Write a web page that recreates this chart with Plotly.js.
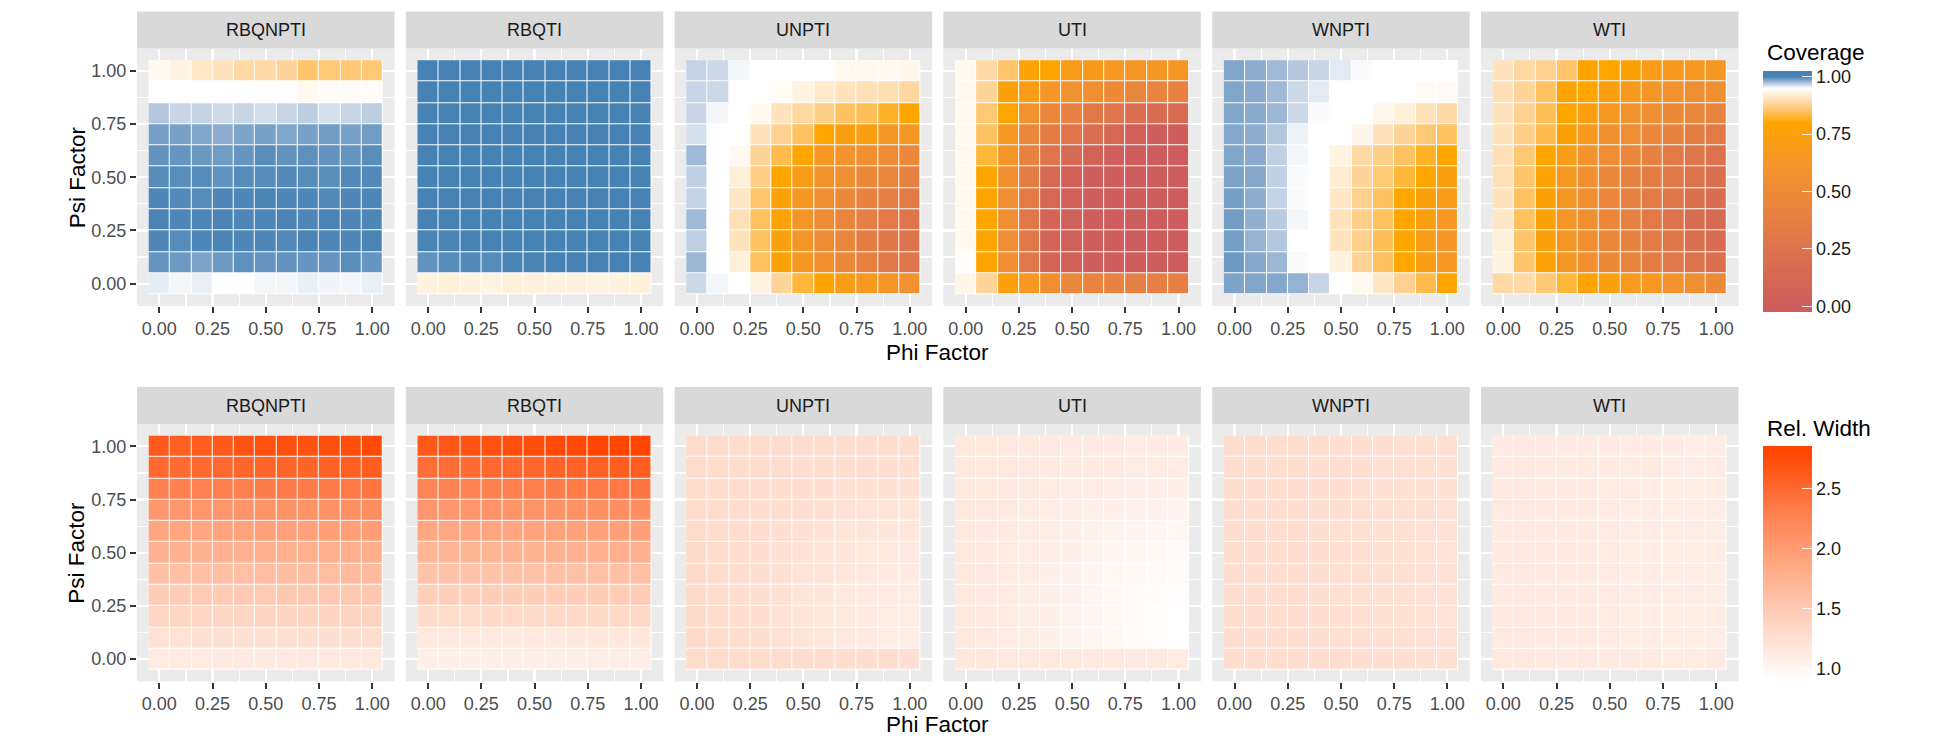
<!DOCTYPE html>
<html>
<head>
<meta charset="utf-8">
<script src="https://cdn.plot.ly/plotly-3.0.1.min.js"></script>
<style>html,body{margin:0;padding:0;background:#fff;}#chart{width:1950px;height:750px;}</style>
</head>
<body>
<div id="chart"></div>
<script>
// ---------------- DATA ----------------
const methods = ['RBQNPTI', 'RBQTI', 'UNPTI', 'UTI', 'WNPTI', 'WTI'];
const phi = [0.0, 0.1, 0.2, 0.3, 0.4, 0.5, 0.6, 0.7, 0.8, 0.9, 1.0];
// rows below are listed top-down: psi = 1.0, 0.9, ..., 0.0
const psiTopDown = [1.0, 0.9, 0.8, 0.7, 0.6, 0.5, 0.4, 0.3, 0.2, 0.1, 0.0];
const axisTicks = [0, 0.25, 0.5, 0.75, 1];
const axisTickText = ['0.00', '0.25', '0.50', '0.75', '1.00'];
const covTicks = [0, 0.25, 0.5, 0.75, 1];
const covTickText = ['0.00', '0.25', '0.50', '0.75', '1.00'];
const relTicks = [1.0, 1.5, 2.0, 2.5];
const relTickText = ['1.0', '1.5', '2.0', '2.5'];

const cov_RBQNPTI = [
  [0.94,0.93,0.91,0.905,0.89,0.89,0.88,0.855,0.86,0.86,0.86],
  [0.95,0.95,0.95,0.95,0.95,0.948,0.948,0.94,0.944,0.944,0.945],
  [0.972,0.966,0.967,0.964,0.966,0.963,0.966,0.969,0.962,0.966,0.969],
  [0.988,0.987,0.985,0.982,0.986,0.987,0.985,0.987,0.989,0.987,0.989],
  [0.993,0.992,0.991,0.989,0.992,0.995,0.993,0.994,0.993,0.992,0.995],
  [0.996,0.995,0.996,0.993,0.996,0.996,0.997,0.996,0.995,0.997,0.997],
  [0.998,0.997,0.996,0.998,0.998,0.999,0.998,0.998,0.997,0.998,0.998],
  [0.999,0.998,0.998,0.999,0.998,0.998,0.999,0.998,0.999,0.998,0.998],
  [0.998,0.996,0.998,0.999,0.998,0.998,0.997,0.999,0.998,0.998,0.999],
  [0.992,0.99,0.986,0.99,0.994,0.992,0.993,0.992,0.992,0.995,0.992],
  [0.957,0.953,0.956,0.95,0.95,0.953,0.953,0.956,0.954,0.953,0.956]
];
const cov_RBQTI = [
  [1,1,1,1,1,1,1,1,1,1,1],
  [1,1,1,1,1,1,1,1,1,1,1],
  [1,1,1,1,1,1,1,1,1,1,1],
  [1,1,1,1,1,1,1,1,1,1,1],
  [1,1,1,1,1,1,1,1,1,1,1],
  [1,1,1,1,1,1,1,1,1,1,1],
  [1,1,1,1,1,1,1,1,1,1,1],
  [1,1,1,1,1,1,1,1,1,1,1],
  [0.999,0.999,1,1,1,1,1,1,1,1,1],
  [0.993,0.996,0.997,0.996,0.999,0.999,1,1,1,1,1],
  [0.928,0.925,0.928,0.93,0.925,0.927,0.928,0.927,0.93,0.928,0.925]
];
const cov_UNPTI = [
  [0.967,0.965,0.953,0.95,0.95,0.95,0.95,0.94,0.94,0.94,0.937],
  [0.966,0.965,0.95,0.95,0.943,0.93,0.915,0.905,0.9,0.897,0.885],
  [0.966,0.953,0.95,0.94,0.905,0.885,0.87,0.85,0.845,0.82,0.80],
  [0.962,0.95,0.948,0.905,0.875,0.85,0.80,0.73,0.72,0.64,0.64],
  [0.977,0.95,0.94,0.88,0.84,0.80,0.65,0.60,0.56,0.52,0.48],
  [0.968,0.95,0.925,0.87,0.80,0.70,0.60,0.55,0.49,0.45,0.40],
  [0.967,0.95,0.91,0.855,0.76,0.64,0.55,0.48,0.42,0.37,0.33],
  [0.977,0.95,0.90,0.85,0.77,0.62,0.52,0.44,0.38,0.32,0.28],
  [0.968,0.95,0.905,0.85,0.74,0.62,0.52,0.44,0.36,0.29,0.25],
  [0.978,0.95,0.925,0.85,0.76,0.64,0.56,0.47,0.40,0.31,0.27],
  [0.965,0.953,0.95,0.93,0.88,0.83,0.79,0.70,0.66,0.62,0.58]
];
const cov_UTI = [
  [0.94,0.89,0.855,0.77,0.80,0.70,0.67,0.65,0.64,0.64,0.64],
  [0.94,0.88,0.75,0.70,0.63,0.58,0.55,0.50,0.45,0.43,0.41],
  [0.94,0.86,0.80,0.58,0.47,0.41,0.31,0.27,0.21,0.17,0.17],
  [0.94,0.85,0.65,0.47,0.36,0.27,0.20,0.12,0.06,0.02,0.02],
  [0.94,0.83,0.62,0.41,0.27,0.15,0.08,0.03,0.01,0.0,0.0],
  [0.94,0.80,0.56,0.36,0.15,0.06,0.02,0.01,0.0,0.0,0.0],
  [0.94,0.80,0.55,0.32,0.12,0.05,0.02,0.01,0.0,0.0,0.0],
  [0.94,0.80,0.54,0.30,0.10,0.04,0.02,0.01,0.0,0.0,0.0],
  [0.94,0.80,0.54,0.30,0.10,0.04,0.02,0.01,0.0,0.0,0.0],
  [0.948,0.80,0.55,0.30,0.10,0.05,0.02,0.01,0.0,0.0,0.0],
  [0.935,0.88,0.75,0.65,0.55,0.47,0.43,0.41,0.38,0.38,0.38]
];
const cov_WNPTI = [
  [0.985,0.982,0.977,0.971,0.966,0.958,0.952,0.95,0.95,0.95,0.95],
  [0.985,0.983,0.977,0.965,0.958,0.95,0.95,0.95,0.95,0.942,0.942],
  [0.985,0.983,0.978,0.965,0.952,0.95,0.95,0.937,0.925,0.905,0.89],
  [0.984,0.982,0.972,0.955,0.95,0.95,0.935,0.905,0.88,0.86,0.85],
  [0.985,0.983,0.968,0.953,0.95,0.93,0.89,0.87,0.85,0.82,0.80],
  [0.986,0.984,0.968,0.952,0.95,0.92,0.88,0.86,0.83,0.80,0.74],
  [0.988,0.982,0.967,0.952,0.95,0.91,0.875,0.85,0.80,0.75,0.70],
  [0.989,0.981,0.970,0.953,0.95,0.905,0.87,0.85,0.80,0.72,0.65],
  [0.988,0.980,0.972,0.95,0.95,0.905,0.872,0.845,0.80,0.70,0.63],
  [0.990,0.984,0.978,0.952,0.95,0.928,0.878,0.85,0.80,0.71,0.65],
  [0.986,0.985,0.984,0.980,0.966,0.95,0.94,0.91,0.875,0.84,0.80]
];
const cov_WTI = [
  [0.905,0.885,0.875,0.855,0.79,0.80,0.76,0.70,0.66,0.65,0.64],
  [0.90,0.88,0.85,0.78,0.80,0.72,0.66,0.62,0.58,0.53,0.55],
  [0.905,0.875,0.845,0.80,0.72,0.65,0.60,0.54,0.50,0.46,0.43],
  [0.905,0.87,0.84,0.76,0.66,0.57,0.53,0.47,0.42,0.36,0.33],
  [0.90,0.86,0.80,0.70,0.60,0.53,0.46,0.40,0.33,0.28,0.24],
  [0.90,0.855,0.78,0.65,0.56,0.48,0.42,0.36,0.31,0.25,0.22],
  [0.905,0.85,0.76,0.64,0.55,0.46,0.40,0.33,0.28,0.22,0.19],
  [0.91,0.85,0.76,0.63,0.55,0.46,0.40,0.32,0.25,0.19,0.15],
  [0.925,0.855,0.75,0.63,0.56,0.47,0.41,0.34,0.28,0.21,0.17],
  [0.93,0.855,0.77,0.64,0.56,0.49,0.43,0.36,0.30,0.25,0.22],
  [0.89,0.89,0.86,0.83,0.78,0.74,0.68,0.65,0.60,0.55,0.50]
];

const rel_RBQNPTI = [
  [2.62,2.58,2.60,2.62,2.68,2.70,2.72,2.70,2.72,2.74,2.76],
  [2.50,2.48,2.50,2.50,2.52,2.53,2.54,2.54,2.56,2.58,2.60],
  [2.28,2.28,2.30,2.30,2.30,2.32,2.33,2.33,2.34,2.36,2.38],
  [2.05,2.05,2.06,2.06,2.07,2.08,2.09,2.10,2.10,2.12,2.14],
  [1.90,1.90,1.90,1.92,1.92,1.93,1.93,1.94,1.95,1.96,1.97],
  [1.75,1.75,1.75,1.76,1.76,1.77,1.78,1.78,1.79,1.80,1.80],
  [1.60,1.60,1.60,1.61,1.61,1.62,1.62,1.63,1.63,1.64,1.65],
  [1.47,1.47,1.48,1.48,1.49,1.49,1.50,1.50,1.51,1.51,1.52],
  [1.35,1.35,1.35,1.36,1.36,1.37,1.37,1.38,1.38,1.39,1.39],
  [1.22,1.22,1.23,1.23,1.23,1.24,1.24,1.25,1.25,1.25,1.26],
  [1.12,1.12,1.12,1.13,1.13,1.13,1.14,1.14,1.14,1.15,1.15]
];
const rel_RBQTI = [
  [2.65,2.66,2.68,2.70,2.72,2.74,2.76,2.77,2.79,2.80,2.805],
  [2.45,2.46,2.48,2.49,2.50,2.52,2.54,2.55,2.57,2.59,2.60],
  [2.25,2.26,2.27,2.28,2.30,2.31,2.32,2.34,2.35,2.36,2.38],
  [2.05,2.05,2.06,2.07,2.08,2.09,2.10,2.11,2.12,2.13,2.14],
  [1.88,1.88,1.89,1.90,1.90,1.91,1.92,1.93,1.94,1.95,1.96],
  [1.72,1.72,1.73,1.73,1.74,1.74,1.75,1.76,1.76,1.77,1.78],
  [1.56,1.56,1.57,1.57,1.58,1.58,1.59,1.59,1.60,1.60,1.61],
  [1.43,1.43,1.43,1.44,1.44,1.44,1.45,1.45,1.46,1.46,1.46],
  [1.30,1.30,1.30,1.31,1.31,1.31,1.32,1.32,1.32,1.33,1.33],
  [1.15,1.15,1.15,1.16,1.16,1.16,1.16,1.17,1.17,1.17,1.17],
  [1.07,1.07,1.07,1.08,1.08,1.08,1.08,1.08,1.09,1.09,1.09]
];
const rel_UNPTI = [
  [1.30,1.30,1.29,1.29,1.28,1.28,1.28,1.27,1.27,1.26,1.26],
  [1.30,1.29,1.29,1.28,1.28,1.27,1.27,1.26,1.26,1.25,1.25],
  [1.30,1.29,1.28,1.27,1.27,1.26,1.25,1.24,1.24,1.23,1.23],
  [1.30,1.29,1.28,1.27,1.26,1.25,1.24,1.22,1.21,1.20,1.20],
  [1.30,1.29,1.28,1.26,1.25,1.23,1.22,1.20,1.19,1.18,1.17],
  [1.31,1.29,1.27,1.25,1.24,1.22,1.20,1.18,1.16,1.15,1.14],
  [1.31,1.29,1.27,1.25,1.23,1.21,1.19,1.17,1.15,1.13,1.12],
  [1.31,1.29,1.27,1.25,1.23,1.20,1.18,1.16,1.14,1.12,1.11],
  [1.31,1.29,1.27,1.25,1.22,1.20,1.17,1.15,1.13,1.11,1.10],
  [1.31,1.29,1.27,1.25,1.22,1.20,1.17,1.15,1.13,1.11,1.09],
  [1.30,1.30,1.29,1.29,1.28,1.28,1.27,1.27,1.26,1.26,1.25]
];
const rel_UTI = [
  [1.16,1.16,1.15,1.15,1.14,1.14,1.13,1.13,1.12,1.12,1.12],
  [1.16,1.15,1.15,1.14,1.13,1.13,1.12,1.12,1.11,1.11,1.10],
  [1.16,1.15,1.14,1.13,1.12,1.11,1.10,1.09,1.08,1.08,1.07],
  [1.16,1.15,1.13,1.12,1.10,1.09,1.07,1.06,1.05,1.04,1.03],
  [1.16,1.14,1.13,1.11,1.09,1.07,1.05,1.03,1.02,1.00,0.99],
  [1.16,1.14,1.12,1.10,1.08,1.06,1.03,1.01,0.99,0.97,0.96],
  [1.16,1.14,1.12,1.10,1.07,1.05,1.02,0.99,0.97,0.95,0.94],
  [1.16,1.14,1.12,1.09,1.07,1.04,1.01,0.98,0.96,0.94,0.92],
  [1.16,1.14,1.12,1.09,1.06,1.03,1.00,0.97,0.95,0.93,0.91],
  [1.16,1.14,1.11,1.09,1.06,1.03,1.00,0.97,0.94,0.92,0.90],
  [1.17,1.17,1.16,1.16,1.15,1.15,1.14,1.14,1.13,1.13,1.12]
];
const rel_WNPTI = [
  [1.27,1.27,1.26,1.26,1.26,1.25,1.25,1.25,1.24,1.24,1.24],
  [1.27,1.27,1.26,1.26,1.25,1.25,1.25,1.24,1.24,1.24,1.23],
  [1.27,1.27,1.26,1.26,1.25,1.25,1.24,1.24,1.23,1.23,1.23],
  [1.27,1.27,1.26,1.26,1.25,1.25,1.24,1.24,1.23,1.23,1.22],
  [1.27,1.27,1.26,1.26,1.25,1.24,1.24,1.23,1.23,1.22,1.22],
  [1.27,1.27,1.26,1.26,1.25,1.24,1.24,1.23,1.23,1.22,1.22],
  [1.27,1.27,1.26,1.26,1.25,1.24,1.24,1.23,1.23,1.22,1.22],
  [1.27,1.27,1.26,1.26,1.25,1.24,1.24,1.23,1.23,1.22,1.22],
  [1.27,1.27,1.26,1.26,1.25,1.24,1.24,1.23,1.23,1.22,1.22],
  [1.27,1.27,1.26,1.26,1.25,1.24,1.24,1.23,1.23,1.22,1.22],
  [1.27,1.27,1.27,1.26,1.26,1.26,1.25,1.25,1.25,1.24,1.24]
];
const rel_WTI = [
  [1.14,1.14,1.14,1.13,1.13,1.13,1.12,1.12,1.12,1.11,1.11],
  [1.14,1.14,1.13,1.13,1.13,1.12,1.12,1.12,1.11,1.11,1.11],
  [1.14,1.14,1.13,1.13,1.12,1.12,1.12,1.11,1.11,1.10,1.10],
  [1.14,1.14,1.13,1.13,1.12,1.12,1.11,1.11,1.10,1.10,1.10],
  [1.14,1.14,1.13,1.13,1.12,1.12,1.11,1.11,1.10,1.10,1.09],
  [1.14,1.14,1.13,1.13,1.12,1.12,1.11,1.11,1.10,1.10,1.09],
  [1.14,1.14,1.13,1.13,1.12,1.12,1.11,1.11,1.10,1.10,1.09],
  [1.14,1.14,1.13,1.13,1.12,1.12,1.11,1.11,1.10,1.10,1.09],
  [1.14,1.14,1.13,1.13,1.12,1.12,1.11,1.11,1.10,1.10,1.09],
  [1.14,1.14,1.13,1.13,1.12,1.12,1.11,1.11,1.10,1.10,1.09],
  [1.15,1.15,1.14,1.14,1.14,1.13,1.13,1.13,1.12,1.12,1.12]
];
const coverage = [cov_RBQNPTI, cov_RBQTI, cov_UNPTI, cov_UTI, cov_WNPTI, cov_WTI];
const relWidth = [rel_RBQNPTI, rel_RBQTI, rel_UNPTI, rel_UTI, rel_WNPTI, rel_WTI];

// ---------------- STYLE / LAYOUT ----------------
const W = 1950, H = 750;
const FONT = 'Liberation Sans, Arial, Helvetica, sans-serif';
const panelLeft = [137, 405.8, 674.6, 943.4, 1212.2, 1481];
const panelW = 257.5;
const rowsPx = [{top: 48.5, bottom: 306}, {top: 424, bottom: 681.5}];
const stripH = 37;

// colour scales (stops in data units; Lab-like intermediate stops)
const covLimits = [0, 1];
const covStops = [[0,'rgb(205,92,92)'],[0.2,'rgb(218,110,80)'],[0.4,'rgb(231,129,65)'],[0.6,'rgb(243,147,45)'],
  [0.8,'rgb(255,165,0)'],[0.875,'rgb(255,209,145)'],[0.95,'rgb(255,255,255)'],[0.975,'rgb(167,190,217)'],[1,'rgb(70,130,180)']];
const relLimits = [0.90, 2.805];
const relFrac = [[0,'rgb(255,255,255)'],[0.25,'rgb(255,212,193)'],[0.5,'rgb(255,169,133)'],[0.75,'rgb(255,124,74)'],[1,'rgb(255,69,0)']];
const relStops = relFrac.map(s => [relLimits[0] + s[0]*(relLimits[1]-relLimits[0]), s[1]]);

function padRange(lim){ const p = (lim[1]-lim[0])/40; return [lim[0]-p, lim[1]+p]; }
function buildScale(stops, r){
  const out = [[0, stops[0][1]]];
  stops.forEach(s => out.push([(s[0]-r[0])/(r[1]-r[0]), s[1]]));
  out.push([1, stops[stops.length-1][1]]);
  return out;
}
const covR = padRange(covLimits), relR = padRange(relLimits);

const psiAsc = psiTopDown.slice().reverse();
const flip = m => m.slice().reverse();
const step = phi[1]-phi[0];
const lo = phi[0]-step/2, hi = phi[phi.length-1]+step/2;
const expand = (hi-lo)*0.05;
const axRange = [lo-expand, hi+expand];

const traces = [];
const layout = {
  width: W, height: H,
  margin: {l:0, r:0, t:0, b:0, pad:0},
  paper_bgcolor: '#FFFFFF', plot_bgcolor: '#EBEBEB',
  showlegend: false,
  font: {family: FONT, color: '#1A1A1A'},
  shapes: [], annotations: [],
  coloraxis: {
    cmin: covR[0], cmax: covR[1], colorscale: buildScale(covStops, covR),
    colorbar: {x: 1763/W, xanchor:'left', xpad:0, y: 1-71/H, yanchor:'top', ypad:0,
      len: 241, lenmode:'pixels', thickness: 49, thicknessmode:'pixels', outlinewidth:0, borderwidth:0,
      tickmode:'array', tickvals: covTicks, ticktext: covTickText, ticks:'inside', ticklen:10, tickwidth:1.2, tickcolor:'rgba(255,255,255,0.9)',
      tickfont:{family:FONT, size:18, color:'#1A1A1A'}}
  },
  coloraxis2: {
    cmin: relR[0], cmax: relR[1], colorscale: buildScale(relStops, relR),
    colorbar: {x: 1763/W, xanchor:'left', xpad:0, y: 1-446/H, yanchor:'top', ypad:0,
      len: 240, lenmode:'pixels', thickness: 49, thicknessmode:'pixels', outlinewidth:0, borderwidth:0,
      tickmode:'array', tickvals: relTicks, ticktext: relTickText, ticks:'inside', ticklen:10, tickwidth:1.2, tickcolor:'rgba(255,255,255,0.9)',
      tickfont:{family:FONT, size:18, color:'#1A1A1A'}}
  }
};

function addPanel(rowIdx, colIdx, zTopDown, caxis){
  const n = rowIdx*6 + colIdx + 1;
  const xa = 'x' + (n===1 ? '' : n), ya = 'y' + (n===1 ? '' : n);
  const xKey = 'xaxis' + (n===1 ? '' : n), yKey = 'yaxis' + (n===1 ? '' : n);
  const l = panelLeft[colIdx], r = rowsPx[rowIdx];
  // white underlay so tile gaps show as white borders
  traces.push({type:'heatmap', x: phi, y: psiAsc, z: psiAsc.map(() => phi.map(() => 0)),
    zmin:0, zmax:1, colorscale:[[0,'#FFFFFF'],[1,'#FFFFFF']], showscale:false, hoverinfo:'skip', xaxis: xa, yaxis: ya});
  traces.push({type:'heatmap', x: phi, y: psiAsc, z: flip(zTopDown), coloraxis: caxis,
    xgap: 1, ygap: 1, xaxis: xa, yaxis: ya,
    hovertemplate: methods[colIdx] + '<br>Phi %{x}<br>Psi %{y}<br>%{z}<extra></extra>'});
  layout[xKey] = {
    domain: [l/W, (l+panelW)/W], range: axRange, anchor: ya, fixedrange: true,
    tickmode:'array', tickvals: axisTicks, ticktext: axisTickText,
    ticks:'outside', ticklen: 6, tickwidth: 2, tickcolor:'#333333',
    tickfont: {family: FONT, size: 18, color:'#4D4D4D'},
    showgrid: true, gridcolor:'#FFFFFF', gridwidth: 2.2,
    minor: {tickvals: [0.125, 0.375, 0.625, 0.875], showgrid: true, gridcolor:'#FFFFFF', gridwidth: 1.1, ticks:''},
    zeroline: false, showline: false
  };
  layout[yKey] = {
    domain: [1 - r.bottom/H, 1 - r.top/H], range: axRange, anchor: xa, fixedrange: true,
    tickmode:'array', tickvals: axisTicks, ticktext: axisTickText,
    ticks: colIdx===0 ? 'outside' : '', ticklen: 6, tickwidth: 2, tickcolor:'#333333',
    showticklabels: colIdx===0,
    tickfont: {family: FONT, size: 18, color:'#4D4D4D'},
    showgrid: true, gridcolor:'#FFFFFF', gridwidth: 2.2,
    minor: {tickvals: [0.125, 0.375, 0.625, 0.875], showgrid: true, gridcolor:'#FFFFFF', gridwidth: 1.1, ticks:''},
    zeroline: false, showline: false
  };
  // facet strip
  layout.shapes.push({type:'rect', xref:'paper', yref:'paper', x0: l/W, x1: (l+panelW)/W,
    y0: 1 - r.top/H, y1: 1 - (r.top - stripH)/H, fillcolor:'#D9D9D9', line:{width:0}, layer:'above'});
  layout.annotations.push({xref:'paper', yref:'paper', x: (l+panelW/2)/W, y: 1 - (r.top - stripH/2)/H,
    text: methods[colIdx], showarrow:false, xanchor:'center', yanchor:'middle',
    font:{family: FONT, size: 18, color:'#1A1A1A'}});
}

methods.forEach((m, i) => addPanel(0, i, coverage[i], 'coloraxis'));
methods.forEach((m, i) => addPanel(1, i, relWidth[i], 'coloraxis2'));

// axis titles shared by each row
const midX = (panelLeft[0] + panelLeft[5] + panelW) / 2 / W;
[352, 724].forEach(yPx => layout.annotations.push({xref:'paper', yref:'paper', x: midX, y: 1 - yPx/H,
  text:'Phi Factor', showarrow:false, xanchor:'center', yanchor:'middle', font:{family: FONT, size: 22.5, color:'#000000'}}));
rowsPx.forEach(r => layout.annotations.push({xref:'paper', yref:'paper', x: 77/W, y: 1 - (r.top + r.bottom)/2/H,
  text:'Psi Factor', textangle: -90, showarrow:false, xanchor:'center', yanchor:'middle', font:{family: FONT, size: 22.5, color:'#000000'}}));
// legend titles
layout.annotations.push({xref:'paper', yref:'paper', x: 1765/W, y: 1 - 53/H, text:'Coverage', showarrow:false,
  xanchor:'left', yanchor:'middle', font:{family: FONT, size: 22.5, color:'#000000'}});
layout.annotations.push({xref:'paper', yref:'paper', x: 1765/W, y: 1 - 428/H, text:'Rel. Width', showarrow:false,
  xanchor:'left', yanchor:'middle', font:{family: FONT, size: 22.5, color:'#000000'}});

Plotly.newPlot('chart', traces, layout, {staticPlot: true, displayModeBar: false});
</script>
</body>
</html>
